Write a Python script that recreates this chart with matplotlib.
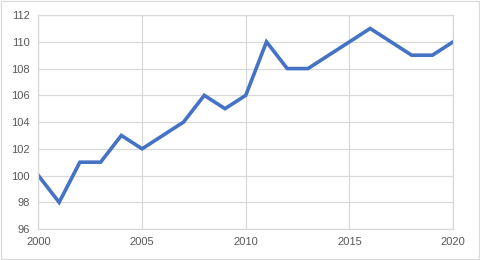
import matplotlib.pyplot as plt
from matplotlib.patches import Rectangle

years = list(range(2000, 2021))
values = [100, 98, 101, 101, 103, 102, 103, 104, 106, 105, 106,
          110, 108, 108, 109, 110, 111, 110, 109, 109, 110]
x_ticks = [2000, 2005, 2010, 2015, 2020]
y_ticks = [96, 98, 100, 102, 104, 106, 108, 110, 112]

plt.rcParams['font.family'] = ['Liberation Sans', 'DejaVu Sans']

fig = plt.figure(figsize=(4.8, 2.6), dpi=100)
ax = fig.add_axes([0.080, 0.119, 0.864, 0.823])

ax.plot(years, values, color='#4472C4', linewidth=2.6, solid_joinstyle='miter')

ax.set_xlim(2000, 2020)
ax.set_ylim(96, 112)
ax.set_xticks(x_ticks)
ax.set_yticks(y_ticks)
ax.grid(True, color='#D9D9D9', linewidth=0.9)
ax.set_axisbelow(True)
for s in ax.spines.values():
    s.set_color('#D9D9D9')
    s.set_linewidth(0.9)
ax.tick_params(length=0, labelsize=8, colors='#595959', pad=6)

# light outer border of the chart area
fig.patches.append(Rectangle((0.002, 0.004), 0.996, 0.992, transform=fig.transFigure,
                             fill=False, edgecolor='#D9D9D9', linewidth=0.9))

fig.savefig('out.png', dpi=100)
